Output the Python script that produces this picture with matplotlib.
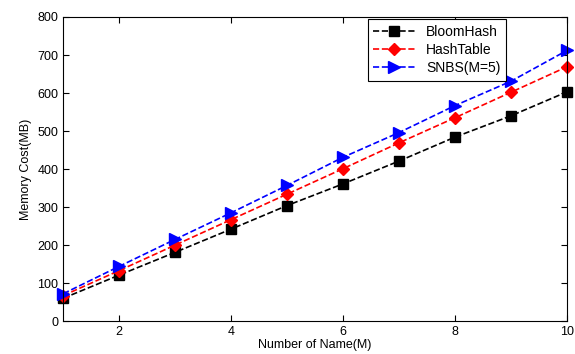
import matplotlib
matplotlib.use('Agg')
import matplotlib.pyplot as plt

plt.rcParams['font.family'] = ['Liberation Sans', 'DejaVu Sans']

x = [1, 2, 3, 4, 5, 6, 7, 8, 9, 10]
bloom = [60, 121, 181, 242, 304, 361, 421, 484, 540, 603]
hashtable = [67, 133, 200, 267, 334, 401, 469, 535, 602, 669]
snbs = [72, 144, 215, 285, 357, 431, 496, 567, 631, 712]

fig = plt.figure(figsize=(5.75, 3.54), dpi=100)
ax = fig.add_axes([0.11, 0.093, 0.876, 0.859])

ax.plot(x, bloom, '--s', color='black', markersize=7, linewidth=1.2, label='BloomHash', clip_on=False)
ax.plot(x, hashtable, '--D', color='red', markersize=6, linewidth=1.2, label='HashTable', clip_on=False)
ax.plot(x, snbs, '-->', color='blue', markersize=8, linewidth=1.2, label='SNBS(M=5)', clip_on=False)

ax.set_xlim(1, 10)
ax.set_ylim(0, 800)
ax.set_xticks([2, 4, 6, 8, 10])
ax.set_yticks(range(0, 801, 100))
ax.tick_params(direction='in', labelsize=9, top=True, right=True, length=4)
ax.set_xlabel('Number of Name(M)', fontsize=9, labelpad=1)
ax.set_ylabel('Memory Cost(MB)', fontsize=9)

leg = ax.legend(loc='upper right', bbox_to_anchor=(0.879, 0.993), borderaxespad=0,
                fontsize=10, fancybox=False, framealpha=1, edgecolor='black',
                handlelength=3, labelspacing=0.3)
leg.get_frame().set_linewidth(0.8)

fig.savefig('out.png', dpi=100)
